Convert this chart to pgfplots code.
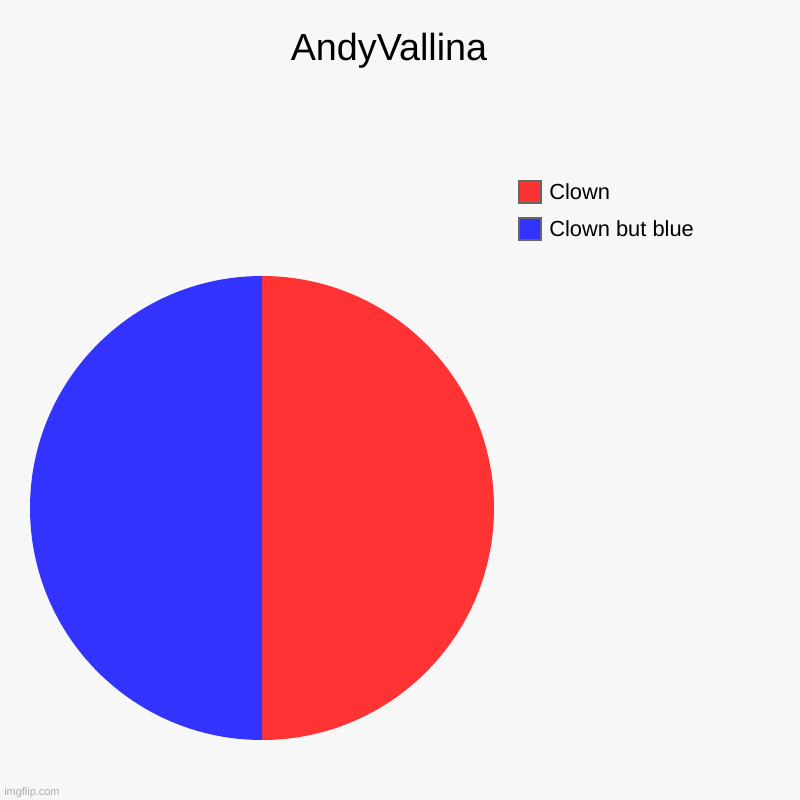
\documentclass[border=0pt]{standalone}
\usepackage{pgfplots}
\pgfplotsset{compat=1.18}
\usepackage{fontspec}
\setmainfont{Liberation Sans}
\definecolor{bgcol}{HTML}{F7F7F7}
\definecolor{clownred}{HTML}{FF3333}
\definecolor{clownblue}{HTML}{3333FF}
\definecolor{boxgray}{HTML}{666666}

% slice values
\def\valA{1}   % Clown
\def\valB{1}   % Clown but blue

\begin{document}
\begin{tikzpicture}
\begin{axis}[
	width=600pt, height=600pt,
	scale only axis,
	xmin=0, xmax=800, ymin=0, ymax=800,
	axis lines=none,
	clip=false,
	]
	\fill[bgcol] (axis cs:0,0) rectangle (axis cs:800,800);

	% pie, clockwise from the top
	\pgfmathsetmacro{\tot}{\valA+\valB}
	\pgfmathsetmacro{\angA}{90-360*\valA/\tot}
	\pgfmathsetmacro{\angB}{\angA-360*\valB/\tot}
	\fill[clownred] (axis cs:262,292) -- (axis cs:262,524)
		arc[start angle=90, end angle=\angA, radius=174pt] -- cycle;
	\fill[clownblue] (axis cs:262,292) -- (axis cs:262,60)
		arc[start angle=\angA, end angle=\angB, radius=174pt] -- cycle;

	% legend
	\draw[fill=clownred, draw=boxgray, line width=1.2pt] (axis cs:519,619) rectangle (axis cs:541,597);
	\draw[fill=clownblue, draw=boxgray, line width=1.2pt] (axis cs:519,582) rectangle (axis cs:541,560);
	\node[anchor=base west, inner sep=0pt, font=\fontsize{16.4}{18}\selectfont] at (axis cs:549,600) {Clown};
	\node[anchor=base west, inner sep=0pt, font=\fontsize{16.4}{18}\selectfont] at (axis cs:549,563) {Clown but blue};

	% title
	\node[anchor=base, inner sep=0pt, font=\fontsize{28.3}{32}\selectfont] at (axis cs:389,739) {AndyVallina};

	% watermark
	\node[anchor=base west, inner sep=0pt, text=black!33, font=\fontsize{8.2}{10}\selectfont] at (axis cs:4,5) {imgflip.com};
\end{axis}
\end{tikzpicture}
\end{document}
